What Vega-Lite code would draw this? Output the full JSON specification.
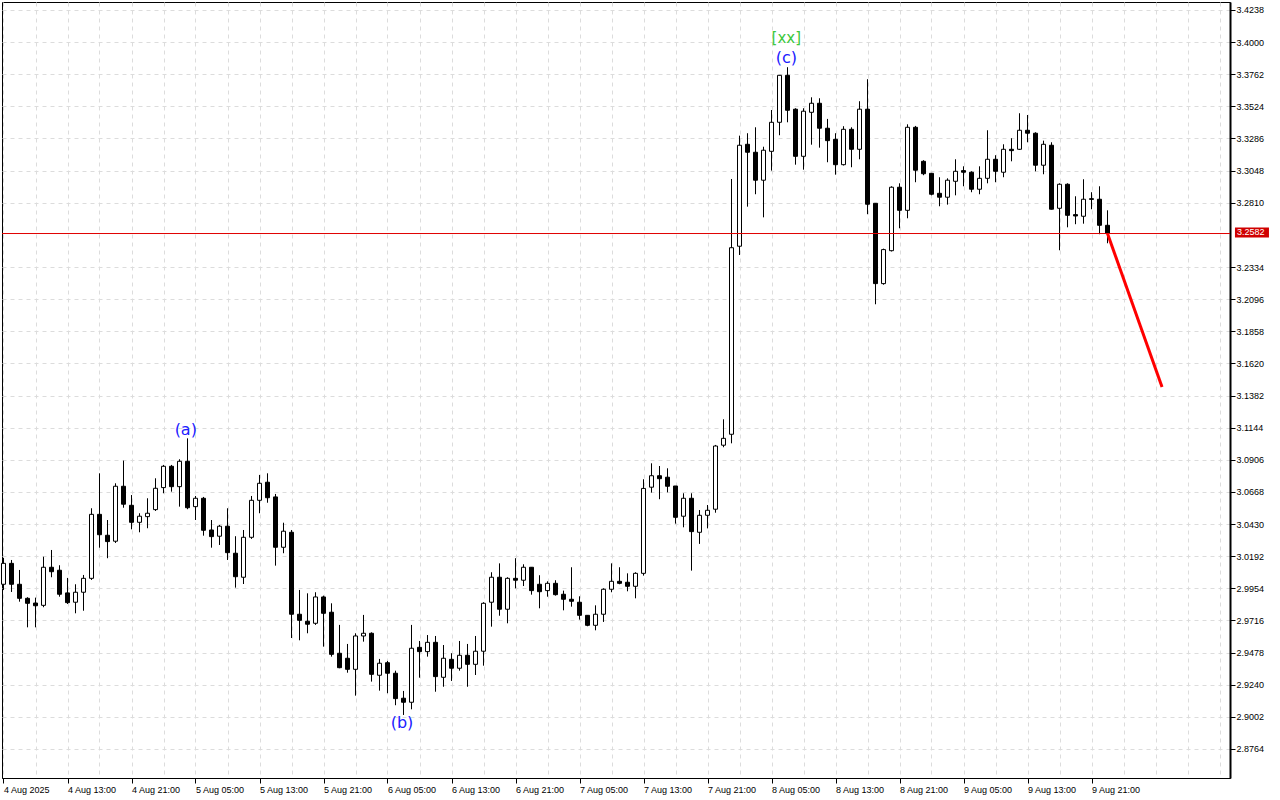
{
  "$schema": "https://vega.github.io/schema/vega-lite/v6.json",
  "width": 1228,
  "height": 776,
  "autosize": {"type": "none"},
  "padding": {"left": 2, "top": 2, "right": 50, "bottom": 22},
  "background": "#ffffff",
  "config": {
    "view": {"stroke": "#000000", "strokeWidth": 1},
    "axis": {"labelFont": "Liberation Sans", "labelFontSize": 9, "labelColor": "#000000", "gridColor": "#dcdcdc", "gridDash": [4, 4], "gridWidth": 1, "tickColor": "#000000", "domainColor": "#000000", "labelOverlap": false, "labelBound": false, "labelFlush": false, "labelSeparation": 0}
  },
  "datasets": {
    "candles": [
      {"t":"2025-08-04T05:00","o":2.9984,"h":3.0179,"l":2.9942,"c":3.0139},
      {"t":"2025-08-04T06:00","o":3.0139,"h":3.0164,"l":2.9927,"c":2.9984},
      {"t":"2025-08-04T07:00","o":2.9984,"h":3.0090,"l":2.9855,"c":2.9880},
      {"t":"2025-08-04T08:00","o":2.9880,"h":2.9888,"l":2.9665,"c":2.9843},
      {"t":"2025-08-04T09:00","o":2.9845,"h":2.9885,"l":2.9665,"c":2.9825},
      {"t":"2025-08-04T10:00","o":2.9828,"h":3.0188,"l":2.9814,"c":3.0110},
      {"t":"2025-08-04T11:00","o":3.0110,"h":3.0238,"l":3.0036,"c":3.0077},
      {"t":"2025-08-04T12:00","o":3.0088,"h":3.0125,"l":2.9892,"c":2.9910},
      {"t":"2025-08-04T13:00","o":2.9920,"h":3.0031,"l":2.9838,"c":2.9848},
      {"t":"2025-08-04T14:00","o":2.9851,"h":2.9984,"l":2.9769,"c":2.9925},
      {"t":"2025-08-04T15:00","o":2.9925,"h":3.0053,"l":2.9788,"c":3.0028},
      {"t":"2025-08-04T16:00","o":3.0028,"h":3.0547,"l":3.0016,"c":3.0502},
      {"t":"2025-08-04T17:00","o":3.0502,"h":3.0806,"l":3.0255,"c":3.0351},
      {"t":"2025-08-04T18:00","o":3.0347,"h":3.0460,"l":3.0177,"c":3.0300},
      {"t":"2025-08-04T19:00","o":3.0303,"h":3.0732,"l":3.0290,"c":3.0710},
      {"t":"2025-08-04T20:00","o":3.0710,"h":3.0900,"l":3.0551,"c":3.0577},
      {"t":"2025-08-04T21:00","o":3.0569,"h":3.0645,"l":3.0391,"c":3.0443},
      {"t":"2025-08-04T22:00","o":3.0443,"h":3.0510,"l":3.0369,"c":3.0488},
      {"t":"2025-08-04T23:00","o":3.0485,"h":3.0621,"l":3.0399,"c":3.0510},
      {"t":"2025-08-05T00:00","o":3.0537,"h":3.0769,"l":3.0527,"c":3.0695},
      {"t":"2025-08-05T01:00","o":3.0700,"h":3.0868,"l":3.0658,"c":3.0858},
      {"t":"2025-08-05T02:00","o":3.0858,"h":3.0868,"l":3.0670,"c":3.0707},
      {"t":"2025-08-05T03:00","o":3.0707,"h":3.0910,"l":3.0559,"c":3.0895},
      {"t":"2025-08-05T04:00","o":3.0895,"h":3.1065,"l":3.0540,"c":3.0551},
      {"t":"2025-08-05T05:00","o":3.0559,"h":3.0638,"l":3.0460,"c":3.0621},
      {"t":"2025-08-05T06:00","o":3.0621,"h":3.0631,"l":3.0344,"c":3.0384},
      {"t":"2025-08-05T07:00","o":3.0386,"h":3.0460,"l":3.0255,"c":3.0337},
      {"t":"2025-08-05T08:00","o":3.0340,"h":3.0423,"l":3.0275,"c":3.0414},
      {"t":"2025-08-05T09:00","o":3.0414,"h":3.0547,"l":3.0164,"c":3.0218},
      {"t":"2025-08-05T10:00","o":3.0214,"h":3.0340,"l":2.9959,"c":3.0040},
      {"t":"2025-08-05T11:00","o":3.0036,"h":3.0386,"l":2.9986,"c":3.0332},
      {"t":"2025-08-05T12:00","o":3.0332,"h":3.0638,"l":3.0320,"c":3.0606},
      {"t":"2025-08-05T13:00","o":3.0606,"h":3.0794,"l":3.0510,"c":3.0732},
      {"t":"2025-08-05T14:00","o":3.0740,"h":3.0806,"l":3.0588,"c":3.0625},
      {"t":"2025-08-05T15:00","o":3.0631,"h":3.0653,"l":3.0122,"c":3.0258},
      {"t":"2025-08-05T16:00","o":3.0258,"h":3.0440,"l":3.0214,"c":3.0377},
      {"t":"2025-08-05T17:00","o":3.0369,"h":3.0386,"l":2.9586,"c":2.9762},
      {"t":"2025-08-05T18:00","o":2.9762,"h":2.9942,"l":2.9569,"c":2.9717},
      {"t":"2025-08-05T19:00","o":2.9710,"h":2.9917,"l":2.9621,"c":2.9688},
      {"t":"2025-08-05T20:00","o":2.9695,"h":2.9925,"l":2.9683,"c":2.9890},
      {"t":"2025-08-05T21:00","o":2.9890,"h":2.9900,"l":2.9522,"c":2.9769},
      {"t":"2025-08-05T22:00","o":2.9777,"h":2.9843,"l":2.9448,"c":2.9465},
      {"t":"2025-08-05T23:00","o":2.9473,"h":2.9683,"l":2.9362,"c":2.9366},
      {"t":"2025-08-06T00:00","o":2.9436,"h":2.9542,"l":2.9329,"c":2.9354},
      {"t":"2025-08-06T01:00","o":2.9354,"h":2.9621,"l":2.9159,"c":2.9601},
      {"t":"2025-08-06T02:00","o":2.9601,"h":2.9757,"l":2.9559,"c":2.9621},
      {"t":"2025-08-06T03:00","o":2.9621,"h":2.9628,"l":2.9263,"c":2.9317},
      {"t":"2025-08-06T04:00","o":2.9310,"h":2.9431,"l":2.9196,"c":2.9399},
      {"t":"2025-08-06T05:00","o":2.9403,"h":2.9416,"l":2.9177,"c":2.9325},
      {"t":"2025-08-06T06:00","o":2.9325,"h":2.9344,"l":2.9088,"c":2.9137},
      {"t":"2025-08-06T07:00","o":2.9140,"h":2.9194,"l":2.9016,"c":2.9110},
      {"t":"2025-08-06T08:00","o":2.9110,"h":2.9683,"l":2.9058,"c":2.9510},
      {"t":"2025-08-06T09:00","o":2.9517,"h":2.9564,"l":2.9292,"c":2.9485},
      {"t":"2025-08-06T10:00","o":2.9485,"h":2.9608,"l":2.9448,"c":2.9554},
      {"t":"2025-08-06T11:00","o":2.9554,"h":2.9601,"l":2.9188,"c":2.9300},
      {"t":"2025-08-06T12:00","o":2.9295,"h":2.9534,"l":2.9225,"c":2.9436},
      {"t":"2025-08-06T13:00","o":2.9428,"h":2.9473,"l":2.9268,"c":2.9362},
      {"t":"2025-08-06T14:00","o":2.9362,"h":2.9564,"l":2.9344,"c":2.9458},
      {"t":"2025-08-06T15:00","o":2.9458,"h":2.9542,"l":2.9225,"c":2.9391},
      {"t":"2025-08-06T16:00","o":2.9391,"h":2.9601,"l":2.9312,"c":2.9488},
      {"t":"2025-08-06T17:00","o":2.9488,"h":2.9851,"l":2.9381,"c":2.9843},
      {"t":"2025-08-06T18:00","o":2.9851,"h":3.0073,"l":2.9670,"c":3.0036},
      {"t":"2025-08-06T19:00","o":3.0036,"h":3.0139,"l":2.9751,"c":2.9799},
      {"t":"2025-08-06T20:00","o":2.9799,"h":3.0036,"l":2.9695,"c":3.0028},
      {"t":"2025-08-06T21:00","o":3.0028,"h":3.0177,"l":2.9954,"c":3.0014},
      {"t":"2025-08-06T22:00","o":3.0014,"h":3.0132,"l":2.9971,"c":3.0110},
      {"t":"2025-08-06T23:00","o":3.0110,"h":3.0110,"l":2.9907,"c":2.9937},
      {"t":"2025-08-07T00:00","o":2.9984,"h":3.0051,"l":2.9806,"c":2.9929},
      {"t":"2025-08-07T01:00","o":2.9937,"h":3.0006,"l":2.9892,"c":2.9991},
      {"t":"2025-08-07T02:00","o":2.9991,"h":3.0014,"l":2.9900,"c":2.9907},
      {"t":"2025-08-07T03:00","o":2.9910,"h":2.9937,"l":2.9791,"c":2.9873},
      {"t":"2025-08-07T04:00","o":2.9873,"h":3.0110,"l":2.9818,"c":2.9858},
      {"t":"2025-08-07T05:00","o":2.9851,"h":2.9895,"l":2.9722,"c":2.9754},
      {"t":"2025-08-07T06:00","o":2.9754,"h":2.9754,"l":2.9673,"c":2.9680},
      {"t":"2025-08-07T07:00","o":2.9680,"h":2.9828,"l":2.9643,"c":2.9762},
      {"t":"2025-08-07T08:00","o":2.9762,"h":2.9954,"l":2.9705,"c":2.9947},
      {"t":"2025-08-07T09:00","o":2.9947,"h":3.0139,"l":2.9925,"c":3.0006},
      {"t":"2025-08-07T10:00","o":3.0006,"h":3.0110,"l":2.9984,"c":2.9991},
      {"t":"2025-08-07T11:00","o":2.9999,"h":3.0065,"l":2.9932,"c":2.9969},
      {"t":"2025-08-07T12:00","o":2.9969,"h":3.0073,"l":2.9880,"c":3.0065},
      {"t":"2025-08-07T13:00","o":3.0065,"h":3.0762,"l":3.0048,"c":3.0694},
      {"t":"2025-08-07T14:00","o":3.0703,"h":3.0880,"l":3.0663,"c":3.0788},
      {"t":"2025-08-07T15:00","o":3.0788,"h":3.0860,"l":3.0614,"c":3.0766},
      {"t":"2025-08-07T16:00","o":3.0777,"h":3.0843,"l":3.0665,"c":3.0710},
      {"t":"2025-08-07T17:00","o":3.0712,"h":3.0712,"l":3.0433,"c":3.0480},
      {"t":"2025-08-07T18:00","o":3.0488,"h":3.0658,"l":3.0406,"c":3.0621},
      {"t":"2025-08-07T19:00","o":3.0621,"h":3.0658,"l":3.0085,"c":3.0374},
      {"t":"2025-08-07T20:00","o":3.0369,"h":3.0534,"l":3.0283,"c":3.0495},
      {"t":"2025-08-07T21:00","o":3.0495,"h":3.0571,"l":3.0398,"c":3.0532},
      {"t":"2025-08-07T22:00","o":3.0540,"h":3.1016,"l":3.0514,"c":3.1008},
      {"t":"2025-08-07T23:00","o":3.1014,"h":3.1206,"l":3.0999,"c":3.1065},
      {"t":"2025-08-08T00:00","o":3.1095,"h":3.2986,"l":3.1028,"c":3.2477},
      {"t":"2025-08-08T01:00","o":3.2488,"h":3.3307,"l":3.2423,"c":3.3236},
      {"t":"2025-08-08T02:00","o":3.3243,"h":3.3325,"l":3.2781,"c":3.3184},
      {"t":"2025-08-08T03:00","o":3.3184,"h":3.3369,"l":3.2873,"c":3.2977},
      {"t":"2025-08-08T04:00","o":3.2977,"h":3.3225,"l":3.2702,"c":3.3199},
      {"t":"2025-08-08T05:00","o":3.3191,"h":3.3497,"l":3.3048,"c":3.3406},
      {"t":"2025-08-08T06:00","o":3.3406,"h":3.3754,"l":3.3310,"c":3.3754},
      {"t":"2025-08-08T07:00","o":3.3754,"h":3.3814,"l":3.3406,"c":3.3495},
      {"t":"2025-08-08T08:00","o":3.3503,"h":3.3510,"l":3.3092,"c":3.3154},
      {"t":"2025-08-08T09:00","o":3.3154,"h":3.3510,"l":3.3055,"c":3.3488},
      {"t":"2025-08-08T10:00","o":3.3480,"h":3.3591,"l":3.3240,"c":3.3547},
      {"t":"2025-08-08T11:00","o":3.3547,"h":3.3584,"l":3.3218,"c":3.3362},
      {"t":"2025-08-08T12:00","o":3.3362,"h":3.3431,"l":3.3110,"c":3.3270},
      {"t":"2025-08-08T13:00","o":3.3280,"h":3.3325,"l":3.3018,"c":3.3092},
      {"t":"2025-08-08T14:00","o":3.3092,"h":3.3377,"l":3.3086,"c":3.3354},
      {"t":"2025-08-08T15:00","o":3.3354,"h":3.3369,"l":3.3073,"c":3.3206},
      {"t":"2025-08-08T16:00","o":3.3206,"h":3.3562,"l":3.3132,"c":3.3503},
      {"t":"2025-08-08T17:00","o":3.3503,"h":3.3725,"l":3.2725,"c":3.2799},
      {"t":"2025-08-08T18:00","o":3.2806,"h":3.2806,"l":3.2058,"c":3.2211},
      {"t":"2025-08-08T19:00","o":3.2211,"h":3.2470,"l":3.2203,"c":3.2463},
      {"t":"2025-08-08T20:00","o":3.2455,"h":3.2932,"l":3.2449,"c":3.2925},
      {"t":"2025-08-08T21:00","o":3.2925,"h":3.2954,"l":3.2621,"c":3.2754},
      {"t":"2025-08-08T22:00","o":3.2754,"h":3.3391,"l":3.2695,"c":3.3369},
      {"t":"2025-08-08T23:00","o":3.3369,"h":3.3379,"l":3.2962,"c":3.3051},
      {"t":"2025-08-09T00:00","o":3.3117,"h":3.3125,"l":3.3014,"c":3.3025},
      {"t":"2025-08-09T01:00","o":3.3028,"h":3.3028,"l":3.2865,"c":3.2873},
      {"t":"2025-08-09T02:00","o":3.2880,"h":3.2999,"l":3.2784,"c":3.2851},
      {"t":"2025-08-09T03:00","o":3.2851,"h":3.2991,"l":3.2796,"c":3.2977},
      {"t":"2025-08-09T04:00","o":3.2969,"h":3.3132,"l":3.2865,"c":3.3043},
      {"t":"2025-08-09T05:00","o":3.3048,"h":3.3080,"l":3.2932,"c":3.3036},
      {"t":"2025-08-09T06:00","o":3.3036,"h":3.3043,"l":3.2888,"c":3.2910},
      {"t":"2025-08-09T07:00","o":3.2910,"h":3.3080,"l":3.2873,"c":3.2991},
      {"t":"2025-08-09T08:00","o":3.2991,"h":3.3347,"l":3.2954,"c":3.3132},
      {"t":"2025-08-09T09:00","o":3.3132,"h":3.3162,"l":3.2962,"c":3.3043},
      {"t":"2025-08-09T10:00","o":3.3036,"h":3.3243,"l":3.2999,"c":3.3206},
      {"t":"2025-08-09T11:00","o":3.3206,"h":3.3288,"l":3.3117,"c":3.3196},
      {"t":"2025-08-09T12:00","o":3.3206,"h":3.3473,"l":3.3201,"c":3.3347},
      {"t":"2025-08-09T13:00","o":3.3347,"h":3.3460,"l":3.3258,"c":3.3325},
      {"t":"2025-08-09T14:00","o":3.3325,"h":3.3332,"l":3.3043,"c":3.3088},
      {"t":"2025-08-09T15:00","o":3.3088,"h":3.3270,"l":3.3021,"c":3.3243},
      {"t":"2025-08-09T16:00","o":3.3236,"h":3.3258,"l":3.2760,"c":3.2762},
      {"t":"2025-08-09T17:00","o":3.2769,"h":3.2954,"l":3.2458,"c":3.2947},
      {"t":"2025-08-09T18:00","o":3.2947,"h":3.2954,"l":3.2628,"c":3.2717},
      {"t":"2025-08-09T19:00","o":3.2722,"h":3.2858,"l":3.2651,"c":3.2712},
      {"t":"2025-08-09T20:00","o":3.2710,"h":3.2984,"l":3.2655,"c":3.2836},
      {"t":"2025-08-09T21:00","o":3.2840,"h":3.2888,"l":3.2762,"c":3.2835},
      {"t":"2025-08-09T22:00","o":3.2836,"h":3.2932,"l":3.2577,"c":3.2643},
      {"t":"2025-08-09T23:00","o":3.2643,"h":3.2754,"l":3.2510,"c":3.2582}
    ],
    "waves": [
      {"t":"2025-08-05T03:47","p":3.1127,"label":"(a)"},
      {"t":"2025-08-06T06:49","p":2.8960,"label":"(b)"},
      {"t":"2025-08-08T06:51","p":3.3880,"label":"(c)"}
    ],
    "degree": [
      {"t":"2025-08-08T06:51","p":3.4032,"label":"[xx]"}
    ],
    "forecast": [
      {"t":"2025-08-09T23:00","p":3.2582},
      {"t":"2025-08-10T05:49","p":3.1445}
    ],
    "lastprice": [
      {"t":"2025-08-04T04:48:45","p":3.2582},
      {"t":"2025-08-10T14:18:45","p":3.2582}
    ]
  },
  "layer": [
    {
      "data": {"name": "candles"},
      "mark": {"type": "rule", "stroke": "#000000", "strokeWidth": 1},
      "encoding": {
        "x": {
          "field": "t", "type": "temporal",
          "scale": {"domain": [{"year":2025,"month":8,"date":4,"hours":4,"minutes":48,"seconds":45}, {"year":2025,"month":8,"date":10,"hours":14,"minutes":18,"seconds":45}], "nice": false, "padding": 0},
          "axis": {
            "orient": "bottom", "title": null,
            "tickCount": 100,
            "values": [
              {"year":2025,"month":8,"date":4,"hours":5},{"year":2025,"month":8,"date":4,"hours":9},{"year":2025,"month":8,"date":4,"hours":13},{"year":2025,"month":8,"date":4,"hours":17},{"year":2025,"month":8,"date":4,"hours":21},
              {"year":2025,"month":8,"date":5,"hours":1},{"year":2025,"month":8,"date":5,"hours":5},{"year":2025,"month":8,"date":5,"hours":9},{"year":2025,"month":8,"date":5,"hours":13},{"year":2025,"month":8,"date":5,"hours":17},{"year":2025,"month":8,"date":5,"hours":21},
              {"year":2025,"month":8,"date":6,"hours":1},{"year":2025,"month":8,"date":6,"hours":5},{"year":2025,"month":8,"date":6,"hours":9},{"year":2025,"month":8,"date":6,"hours":13},{"year":2025,"month":8,"date":6,"hours":17},{"year":2025,"month":8,"date":6,"hours":21},
              {"year":2025,"month":8,"date":7,"hours":1},{"year":2025,"month":8,"date":7,"hours":5},{"year":2025,"month":8,"date":7,"hours":9},{"year":2025,"month":8,"date":7,"hours":13},{"year":2025,"month":8,"date":7,"hours":17},{"year":2025,"month":8,"date":7,"hours":21},
              {"year":2025,"month":8,"date":8,"hours":1},{"year":2025,"month":8,"date":8,"hours":5},{"year":2025,"month":8,"date":8,"hours":9},{"year":2025,"month":8,"date":8,"hours":13},{"year":2025,"month":8,"date":8,"hours":17},{"year":2025,"month":8,"date":8,"hours":21},
              {"year":2025,"month":8,"date":9,"hours":1},{"year":2025,"month":8,"date":9,"hours":5},{"year":2025,"month":8,"date":9,"hours":9},{"year":2025,"month":8,"date":9,"hours":13},{"year":2025,"month":8,"date":9,"hours":17},{"year":2025,"month":8,"date":9,"hours":21},
              {"year":2025,"month":8,"date":10,"hours":1},{"year":2025,"month":8,"date":10,"hours":5},{"year":2025,"month":8,"date":10,"hours":9},{"year":2025,"month":8,"date":10,"hours":13}
            ],
            "grid": true,
            "domain": true, "domainWidth": 1,
            "ticks": true, "tickSize": 5, "tickWidth": 1,
            "tickOpacity": {"condition": {"test": "hours(datum.value) % 8 == 5 && datum.value <= datetime(2025, 7, 9, 21, 0)", "value": 1}, "value": 0},
            "labelExpr": "hours(datum.value) % 8 == 5 && datum.value <= datetime(2025, 7, 9, 21, 0) ? (datum.index == 0 ? timeFormat(datum.value, '%-d %b %Y') : timeFormat(datum.value, '%-d %b %H:%M')) : ''",
            "labelAlign": "left", "labelBaseline": "top", "labelPadding": 2,
            "labelOverlap": false, "labelBound": false, "labelFlush": false
          }
        },
        "y": {
          "field": "l", "type": "quantitative",
          "scale": {"domain": [2.8549, 3.4297], "nice": false, "zero": false, "padding": 0},
          "axis": {
            "orient": "right", "title": null,
            "tickCount": 100,
            "values": [3.4238, 3.4, 3.3762, 3.3524, 3.3286, 3.3048, 3.281, 3.2334, 3.2096, 3.1858, 3.162, 3.1382, 3.1144, 3.0906, 3.0668, 3.043, 3.0192, 2.9954, 2.9716, 2.9478, 2.924, 2.9002, 2.8764],
            "format": ".4f",
            "grid": true,
            "domain": true, "domainWidth": 2,
            "ticks": true, "tickSize": 5, "tickWidth": 1,
            "labelPadding": 1, "labelAlign": "left", "labelBaseline": "middle",
            "labelOverlap": false, "labelBound": false, "labelFlush": false
          }
        },
        "y2": {"field": "h"}
      }
    },
    {
      "data": {"name": "candles"},
      "mark": {"type": "bar", "size": 4, "stroke": "#000000", "strokeWidth": 1},
      "encoding": {
        "x": {"field": "t", "type": "temporal", "title": null},
        "y": {"field": "o", "type": "quantitative", "title": null},
        "y2": {"field": "c"},
        "fill": {"condition": {"test": "datum.c >= datum.o", "value": "#ffffff"}, "value": "#000000"}
      }
    },
    {
      "data": {"name": "lastprice"},
      "mark": {"type": "line", "strokeWidth": 1},
      "encoding": {
        "x": {"field": "t", "type": "temporal", "title": null},
        "y": {"field": "p", "type": "quantitative", "title": null},
        "color": {"value": "#e00000"}
      }
    },
    {
      "data": {"name": "forecast"},
      "mark": {"type": "line", "strokeWidth": 3},
      "encoding": {
        "x": {"field": "t", "type": "temporal", "title": null},
        "y": {"field": "p", "type": "quantitative", "title": null},
        "color": {"value": "#ff0000"}
      }
    },
    {
      "data": {"name": "waves"},
      "mark": {"type": "text", "font": "DejaVu Sans", "fontSize": 16, "align": "center", "baseline": "middle"},
      "encoding": {
        "x": {"field": "t", "type": "temporal", "title": null},
        "y": {"field": "p", "type": "quantitative", "title": null},
        "text": {"field": "label"},
        "color": {"value": "#2020ff"}
      }
    },
    {
      "data": {"name": "degree"},
      "mark": {"type": "text", "font": "DejaVu Sans", "fontSize": 15, "align": "center", "baseline": "middle"},
      "encoding": {
        "x": {"field": "t", "type": "temporal", "title": null},
        "y": {"field": "p", "type": "quantitative", "title": null},
        "text": {"field": "label"},
        "color": {"value": "#3cc83c"}
      }
    },
    {
      "data": {"values": [{}]},
      "mark": {"type": "rect", "clip": false},
      "encoding": {
        "x": {"datum": {"year":2025,"month":8,"date":10,"hours":14,"minutes":56}, "type": "temporal", "title": null},
        "x2": {"datum": {"year":2025,"month":8,"date":10,"hours":19,"minutes":11}},
        "y": {"datum": 3.2627, "type": "quantitative", "title": null},
        "y2": {"datum": 3.2553},
        "color": {"value": "#d00000"}
      }
    },
    {
      "data": {"values": [{"label": "3.2582"}]},
      "mark": {"type": "text", "font": "Liberation Sans", "fontSize": 9, "align": "left", "baseline": "middle", "clip": false},
      "encoding": {
        "x": {"datum": {"year":2025,"month":8,"date":10,"hours":15,"minutes":11}, "type": "temporal", "title": null},
        "y": {"datum": 3.2590, "type": "quantitative", "title": null},
        "text": {"field": "label"},
        "color": {"value": "#ffffff"}
      }
    }
  ]
}
